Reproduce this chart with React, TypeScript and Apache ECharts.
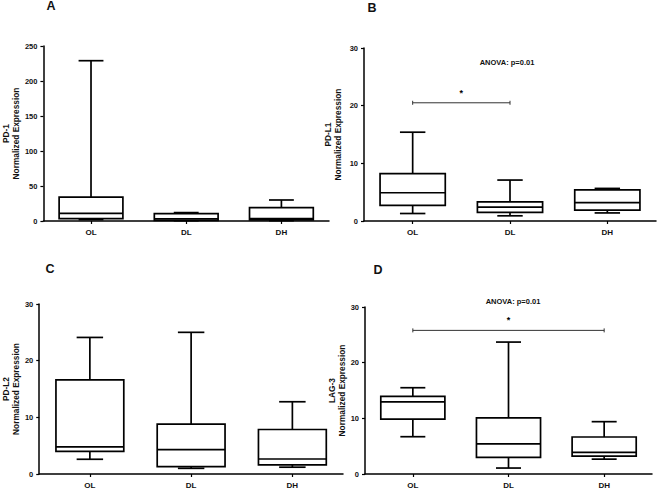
import React, { useEffect, useRef } from "react";
import * as echarts from "echarts";

const categories = ["OL", "DL", "DH"];
// [low, q1, median, q3, high]
const pd1 = [
  [2, 3.5, 11, 34, 229],
  [0.5, 1, 3, 10.5, 12],
  [0.5, 1.5, 3.5, 19, 30],
];
const pdl1 = [
  [1.3, 2.7, 4.9, 8.2, 15.4],
  [0.9, 1.5, 2.4, 3.3, 7.1],
  [1.4, 1.9, 3.2, 5.4, 5.65],
];
const pdl2 = [
  [2.6, 4.0, 4.8, 16.6, 24.1],
  [1.0, 1.3, 4.3, 8.8, 25.0],
  [1.2, 1.6, 2.65, 7.85, 12.75],
];
const lag3 = [
  [6.7, 9.85, 12.95, 13.95, 15.5],
  [1.07, 3.0, 5.4, 10.1, 23.7],
  [2.67, 3.2, 3.9, 6.65, 9.4],
];
const panelNames = ["PD-1", "PD-L1", "PD-L2", "LAG-3"];
const panelLetters = ["A", "B", "C", "D"];
const yMax = [250, 30, 30, 30];
const yInterval = [50, 10, 10, 10];
// [fromCategory, toCategory, value]
const bracketB = [0, 1, 20.5];
const bracketD = [0, 2, 25.8];
const anovaText = "ANOVA: p=0.01";

const FONT = "'Liberation Sans', Arial, sans-serif";

const grids = [
  { left: 41, top: 46, width: 288, height: 175 },
  { left: 364, top: 48, width: 292, height: 173 },
  { left: 35, top: 304, width: 308, height: 173 },
  { left: 365, top: 307, width: 287, height: 168 },
];
const nameGaps = [22, 21, 16, 16];

const boxRender = (params: any, api: any) => {
  const x = api.value(0);
  const low = api.coord([x, api.value(1)]);
  const q1 = api.coord([x, api.value(2)]);
  const med = api.coord([x, api.value(3)]);
  const q3 = api.coord([x, api.value(4)]);
  const high = api.coord([x, api.value(5)]);
  const band = api.size([1, 0])[0];
  const bw = band * 0.67;
  const cap = bw * 0.39;
  const cx = low[0];
  const st = { stroke: "#000", lineWidth: 1.7 };
  return {
    type: "group",
    children: [
      { type: "line", shape: { x1: cx, y1: high[1], x2: cx, y2: q3[1] }, style: st },
      { type: "line", shape: { x1: cx - cap / 2, y1: high[1], x2: cx + cap / 2, y2: high[1] }, style: st },
      { type: "line", shape: { x1: cx, y1: q1[1], x2: cx, y2: low[1] }, style: st },
      { type: "line", shape: { x1: cx - cap / 2, y1: low[1], x2: cx + cap / 2, y2: low[1] }, style: st },
      {
        type: "rect",
        shape: { x: cx - bw / 2, y: q3[1], width: bw, height: q1[1] - q3[1] },
        style: { ...st, fill: "#fff" },
      },
      { type: "line", shape: { x1: cx - bw / 2, y1: med[1], x2: cx + bw / 2, y2: med[1] }, style: st },
    ],
  };
};

const bracketRender = (params: any, api: any) => {
  const p1 = api.coord([api.value(0), api.value(2)]);
  const p2 = api.coord([api.value(1), api.value(2)]);
  const st = { stroke: "#333", lineWidth: 1 };
  return {
    type: "group",
    children: [
      { type: "line", shape: { x1: p1[0], y1: p1[1], x2: p2[0], y2: p2[1] }, style: st },
      { type: "line", shape: { x1: p1[0], y1: p1[1] - 2, x2: p1[0], y2: p1[1] + 2 }, style: st },
      { type: "line", shape: { x1: p2[0], y1: p2[1] - 2, x2: p2[0], y2: p2[1] + 2 }, style: st },
      {
        type: "text",
        style: {
          text: "*",
          x: (p1[0] + p2[0]) / 2,
          y: p1[1] - 10,
          align: "center",
          verticalAlign: "middle",
          fill: "#000",
          fontSize: 9,
          fontWeight: "bold",
          fontFamily: FONT,
        },
      },
    ],
  };
};

export default function App() {
  const ref = useRef<HTMLDivElement>(null);
  useEffect(() => {
    if (!ref.current) return;
    const chart = echarts.init(ref.current, undefined, { renderer: "svg" });
    const datasets = [pd1, pdl1, pdl2, lag3];
    const xAxis = grids.map((_, i) => ({
      type: "category",
      gridIndex: i,
      data: categories,
      boundaryGap: true,
      axisLine: { show: true, lineStyle: { color: "#000", width: 1.5 } },
      axisTick: { show: true, alignWithLabel: true, length: 3, lineStyle: { color: "#000", width: 1.2 } },
      axisLabel: { fontSize: 8, fontWeight: "bold", color: "#111", margin: 7, fontFamily: FONT },
    }));
    const yAxis = grids.map((_, i) => ({
      type: "value",
      gridIndex: i,
      min: 0,
      max: yMax[i],
      interval: yInterval[i],
      splitLine: { show: false },
      axisLine: { show: true, lineStyle: { color: "#000", width: 1.5 } },
      axisTick: { show: true, length: 3, lineStyle: { color: "#000", width: 1.2 } },
      axisLabel: { fontSize: 7.5, fontWeight: "bold", color: "#111", margin: 6, fontFamily: FONT },
      name: panelNames[i] + "\nNormalized Expression",
      nameLocation: "middle",
      nameRotate: 90,
      nameGap: nameGaps[i],
      nameTextStyle: { fontSize: 8.3, fontWeight: "bold", color: "#111", lineHeight: 10, fontFamily: FONT },
    }));
    const series: any[] = datasets.map((d, i) => ({
      type: "custom",
      xAxisIndex: i,
      yAxisIndex: i,
      renderItem: boxRender,
      clip: false,
      encode: { x: 0, y: [1, 2, 3, 4, 5] },
      data: d.map((v, k) => [k, ...v]),
    }));
    series.push({
      type: "custom",
      xAxisIndex: 1,
      yAxisIndex: 1,
      renderItem: bracketRender,
      clip: false,
      encode: { x: [0, 1], y: 2 },
      data: [bracketB],
    });
    series.push({
      type: "custom",
      xAxisIndex: 3,
      yAxisIndex: 3,
      renderItem: bracketRender,
      clip: false,
      encode: { x: [0, 1], y: 2 },
      data: [bracketD],
    });
    const letterPos = [
      [51, 6],
      [372, 8],
      [50, 269],
      [378, 270],
    ];
    const graphic: any[] = letterPos.map((p, i) => ({
      type: "text",
      x: p[0],
      y: p[1],
      style: {
        text: panelLetters[i],
        align: "center",
        verticalAlign: "middle",
        fontSize: 12.5,
        fontWeight: "bold",
        fill: "#111",
        fontFamily: FONT,
      },
    }));
    [
      [507, 62],
      [513, 301],
    ].forEach((p) =>
      graphic.push({
        type: "text",
        x: p[0],
        y: p[1],
        style: {
          text: anovaText,
          align: "center",
          verticalAlign: "middle",
          fontSize: 7.5,
          fontWeight: "bold",
          fill: "#111",
          fontFamily: FONT,
        },
      })
    );
    chart.setOption({
      animation: false,
      backgroundColor: "#fff",
      grid: grids.map((g) => ({ ...g, containLabel: false })),
      xAxis,
      yAxis,
      series,
      graphic,
    });
    return () => chart.dispose();
  }, []);
  return (
    <div
      ref={ref}
      style={{ position: "fixed", left: 0, top: 0, width: 658, height: 489, background: "#fff" }}
    />
  );
}
